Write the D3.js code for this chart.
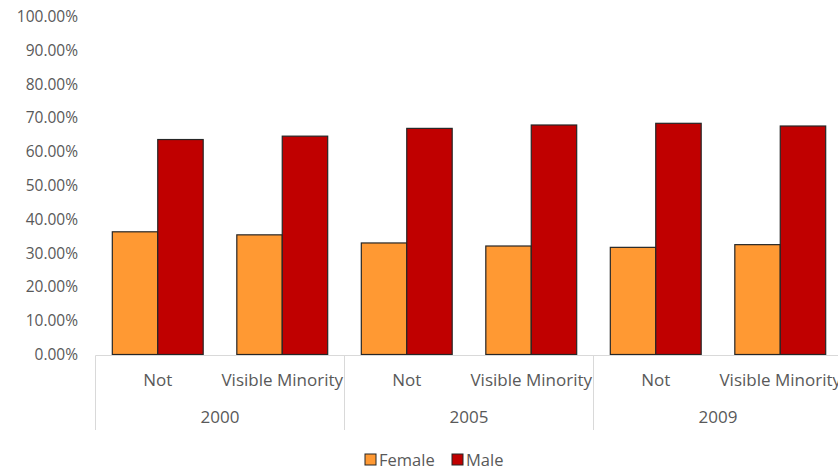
<!DOCTYPE html>
<html><head><meta charset="utf-8">
<script src="https://cdn.jsdelivr.net/npm/d3@7"></script>
<style>body{margin:0;background:#fff}svg{display:block}text{font-family:"Open Sans",sans-serif;fill:#595959}</style>
</head><body><svg id="c" width="838" height="469"></svg>
<script>
const years = ["2000","2005","2009"];
const categories = ["Not","Visible Minority"];
const seriesNames = ["Female","Male"];
const female = [36.3, 35.4, 33.0, 32.1, 31.7, 32.5];
const male = [63.6, 64.6, 66.9, 67.9, 68.4, 67.6];
const yTicks = [0,10,20,30,40,50,60,70,80,90,100];
const colors = ["#FF9933","#C00000"];

(function(){
const svg = d3.select("#c");
const left = 95.5, groupW = 249, plotTop = 16.5, bottom = 354.5;
const rows = [];
years.forEach((yr,gi)=>categories.forEach((c,ci)=>rows.push({key:yr+"|"+c,year:yr,cat:c,vals:[female[gi*2+ci],male[gi*2+ci]]})));

const x = d3.scaleBand().domain(rows.map(r=>r.key)).range([left,left+groupW*years.length]).paddingInner(0.27).paddingOuter(0.135);
const xs = d3.scaleBand().domain(seriesNames).range([0,x.bandwidth()]);
const xg = d3.scaleBand().domain(years).range([left,left+groupW*years.length]);
const y = d3.scaleLinear().domain([0,100]).range([bottom,plotTop]);

const ya = svg.append("g").attr("transform",`translate(78,0)`).call(d3.axisLeft(y).tickValues(yTicks).tickSize(0).tickPadding(0).tickFormat(d=>d.toFixed(2)+"%"));
ya.select(".domain").remove();
ya.selectAll("text").style("font-size","15.5px").attr("fill","#595959").style("font-family","'Open Sans',sans-serif");

const g = svg.append("g");
rows.forEach(r=>{
  g.selectAll(null).data(r.vals).enter().append("rect")
    .attr("x",(d,i)=>x(r.key)+xs(seriesNames[i]))
    .attr("y",d=>y(d))
    .attr("width",xs.bandwidth())
    .attr("height",d=>bottom-y(d))
    .attr("fill",(d,i)=>colors[i])
    .attr("stroke","#262626").attr("stroke-width",1.2);
});

svg.append("line").attr("x1",left).attr("x2",838).attr("y1",bottom+1).attr("y2",bottom+1).attr("stroke","#d9d9d9");
const seps = years.map(yr=>xg(yr)).concat([left+groupW*years.length]);
svg.selectAll(".sep").data(seps).enter().append("line")
  .attr("x1",d=>d).attr("x2",d=>d).attr("y1",bottom+1).attr("y2",430).attr("stroke","#d9d9d9");

svg.selectAll(".cl").data(rows).enter().append("text")
  .attr("x",d=>x(d.key)+x.bandwidth()/2).attr("y",386).attr("text-anchor","middle")
  .style("font-size","17px").text(d=>d.cat);
svg.selectAll(".yl").data(years).enter().append("text")
  .attr("x",d=>xg(d)+xg.bandwidth()/2).attr("y",423).attr("text-anchor","middle")
  .style("font-size","17px").text(d=>d);

const lg = svg.append("g");
const lx = [365,452];
seriesNames.forEach((s,i)=>{
  lg.append("rect").attr("x",lx[i]).attr("y",454).attr("width",11).attr("height",11).attr("fill",colors[i]).attr("stroke","#262626").attr("stroke-width",1);
  lg.append("text").attr("x",lx[i]+14).attr("y",466).style("font-size","16.5px").text(s);
});
})();
</script></body></html>
